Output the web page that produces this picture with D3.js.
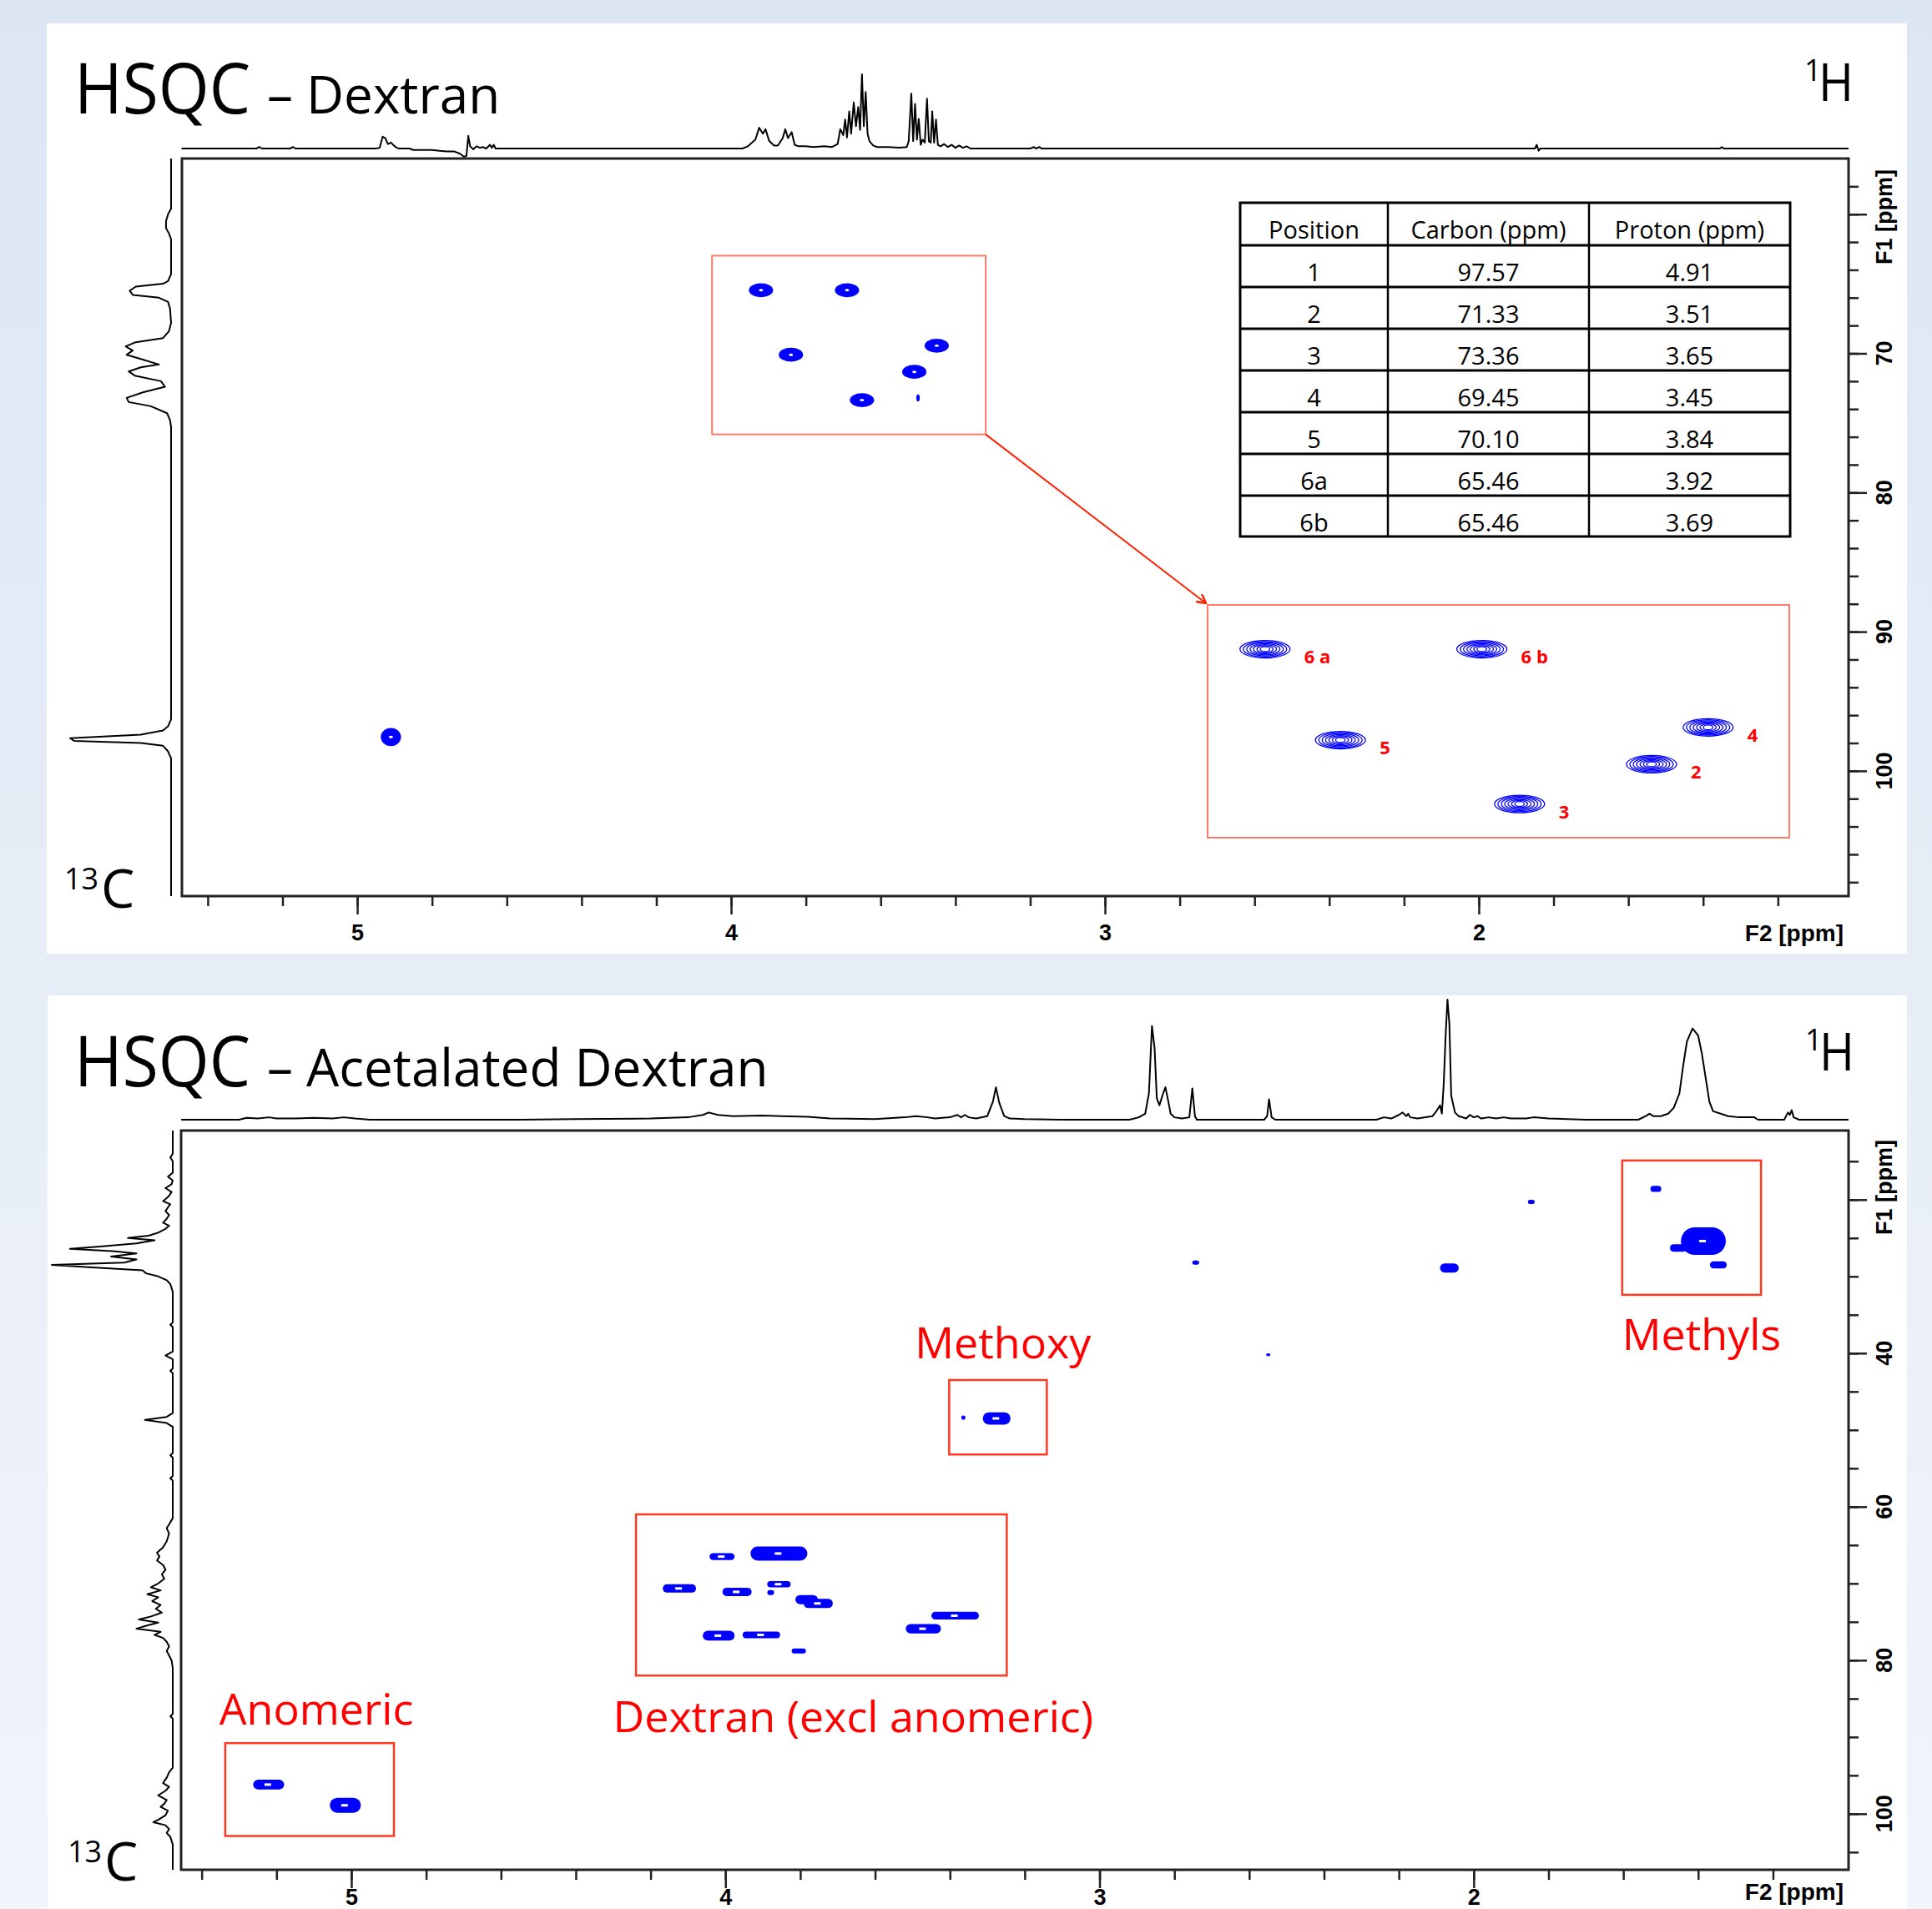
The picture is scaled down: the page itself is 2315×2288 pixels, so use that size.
<!DOCTYPE html>
<html><head><meta charset="utf-8">
<script src="https://cdn.jsdelivr.net/npm/d3@7"></script>
<style>html,body{margin:0;padding:0;background:#e9eef8;} svg{display:block}</style>
</head><body>
<script>
// ---------------- DATA ----------------
const tableHeaders = ["Position", "Carbon (ppm)", "Proton (ppm)"];
const positions = ["1", "2", "3", "4", "5", "6a", "6b"];
const carbonPpm = [97.57, 71.33, 73.36, 69.45, 70.10, 65.46, 65.46];
const protonPpm = [4.91, 3.51, 3.65, 3.45, 3.84, 3.92, 3.69];
// cross-peak linewidths (ppm) for dextran spectrum
const dexWidthH = [0.054, 0.065, 0.065, 0.065, 0.065, 0.065, 0.065];
const dexWidthC = [1.3, 1.0, 1.0, 1.0, 1.0, 1.0, 1.0];
// small artefact peak in dextran spectrum [H, C, wH, wC]
const dexArtefact = [3.50, 73.2, 0.009, 0.5];

const xMajorTicks = [5, 4, 3, 2];
const xMinorTicks = [5.4, 5.2, 5.0, 4.8, 4.6, 4.4, 4.2, 4.0, 3.8, 3.6, 3.4, 3.2, 3.0, 2.8, 2.6, 2.4, 2.2, 2.0, 1.8, 1.6, 1.4, 1.2];
const y1MajorTicks = [60, 70, 80, 90, 100];
const y1Labels = [70, 80, 90, 100];
const y1MinorTicks = [58, 60, 62, 64, 66, 68, 70, 72, 74, 76, 78, 80, 82, 84, 86, 88, 90, 92, 94, 96, 98, 100, 102, 104, 106, 108];
const y2MajorTicks = [20, 40, 60, 80, 100];
const y2Labels = [40, 60, 80, 100];
const y2MinorTicks = [15, 20, 25, 30, 35, 40, 45, 50, 55, 60, 65, 70, 75, 80, 85, 90, 95, 100, 105];

// 1H projection of dextran [ppm, intensity]
const h1Dextran = [
[5.47,0],[5.27,0],[5.262,2],[5.255,0],[5.18,0],[5.172,2],[5.165,0],
[4.95,0],[4.94,1],[4.932,16],[4.925,14],[4.918,6],[4.91,8],[4.90,3],[4.89,0],
[4.86,0],[4.85,-2],[4.80,-2],[4.78,-3],[4.76,-4],[4.74,-4],[4.725,-7],[4.715,-11],[4.708,-10],[4.703,17],[4.698,3],[4.69,-1],[4.68,3],[4.672,1],[4.665,2],[4.655,0],[4.645,5],[4.64,1],[4.635,5],[4.63,0],
[3.97,0],[3.955,3],[3.935,12],[3.925,28],[3.915,20],[3.908,26],[3.898,10],[3.885,4],[3.875,4],[3.862,14],[3.855,26],[3.848,14],[3.838,22],[3.83,5],[3.82,3],[3.80,3],[3.78,2],[3.75,3],[3.73,2],[3.715,6],[3.708,26],[3.70,18],[3.695,39],[3.69,15],[3.684,50],[3.679,20],[3.672,62],[3.666,30],[3.66,56],[3.655,25],[3.65,100],[3.645,30],[3.64,76],[3.635,20],[3.63,10],[3.62,4],[3.61,2],[3.58,2],[3.55,1],[3.53,2],[3.525,10],[3.518,74],[3.513,10],[3.508,60],[3.503,12],[3.498,40],[3.493,5],[3.488,12],[3.482,8],[3.476,67],[3.471,10],[3.466,8],[3.462,50],[3.457,8],[3.452,39],[3.447,5],[3.44,3],[3.43,6],[3.42,2],[3.41,5],[3.40,1],[3.39,4],[3.38,1],[3.37,3],[3.36,0],
[3.20,0],[3.19,2],[3.185,0],[3.175,2],[3.17,0],
[1.85,0],[1.845,5],[1.84,-3],[1.835,0],
[1.355,0],[1.35,2],[1.345,0],[1.011,0]
];
// 13C projection of dextran [ppm, intensity]
const c13Dextran = [
[56,0],[59.6,0],[60.0,3],[60.5,5],[61.0,5],[61.4,2],[61.8,0],
[64.3,0],[64.8,3],[65.0,8],[65.2,35],[65.5,41],[65.8,38],[66.0,12],[66.3,3],[66.8,1],[67.8,0],
[68.4,2],[68.9,8],[69.2,35],[69.5,45],[69.8,38],[70.1,44],[70.4,30],[70.8,12],[71.0,30],[71.3,42],[71.6,36],[72.0,10],[72.4,6],[72.8,28],[73.2,44],[73.5,42],[73.8,20],[74.3,4],[74.8,1],[75.3,0],
[96.3,0],[96.8,3],[97.1,8],[97.4,30],[97.65,100],[97.85,96],[98.0,30],[98.2,8],[98.6,3],[99.1,0],[109,0]
];
// 1H projection of acetalated dextran
const h1Acetal = [
[5.455,0],[5.30,0],[5.28,1.5],[5.25,1],[5.22,2],[5.20,1],[5.15,1],[5.10,1.5],[5.05,1],[5.02,2],[4.99,1],[4.95,0],
[4.55,0],[4.40,0.5],[4.20,1],[4.10,2],[4.06,4],[4.045,6],[4.02,4],[3.98,3],[3.90,3.5],[3.85,3],[3.78,2.5],[3.72,1],[3.60,0.5],
[3.52,2],[3.49,3],[3.46,2],[3.44,1],
[3.40,2],[3.38,4],[3.37,2],[3.36,4],[3.35,2],[3.33,1],[3.30,3],[3.285,15],[3.277,27],[3.268,14],[3.255,3],[3.24,1],[3.20,0.5],[3.10,0],
[2.92,0],[2.895,2],[2.878,5],[2.868,22],[2.86,78],[2.853,60],[2.847,18],[2.84,12],[2.83,22],[2.824,27],[2.818,18],[2.81,5],[2.80,2],[2.78,1],[2.76,2],[2.752,26],[2.745,3],[2.74,0],
[2.56,0],[2.552,3],[2.547,17],[2.54,2],[2.53,0],
[2.26,0],[2.24,2],[2.22,1],[2.20,4],[2.19,6],[2.18,3],[2.175,5],[2.17,2],[2.15,1],[2.11,3],[2.10,7],[2.09,12],[2.085,5],[2.08,30],[2.075,70],[2.07,100],[2.065,80],[2.06,20],[2.05,6],[2.04,3],[2.02,1],[2.01,4],[2.00,2],[1.99,3],[1.98,1],[1.96,2],[1.94,1],[1.92,2],[1.90,1],[1.86,1],[1.84,2],[1.80,1],[1.70,0],
[1.56,0],[1.54,3],[1.53,5],[1.52,3],[1.50,3],[1.48,5],[1.465,10],[1.45,22],[1.44,45],[1.43,65],[1.415,76],[1.40,70],[1.39,55],[1.38,35],[1.37,15],[1.36,7],[1.34,5],[1.32,3],[1.29,2],[1.25,2],[1.24,0],[1.17,0],[1.16,6],[1.155,4],[1.15,8],[1.145,2],[1.13,0],[0.998,0]
];
// 13C projection of acetalated dextran
const c13Acetal = [
[11,0],[14,0],[14.5,2],[15,0],[16.5,0],[17,4],[17.5,0],[18,1],[18.5,6],[19,1],[19.5,3],[20.2,8],[20.6,2],[21,4],[21.5,6],[22,3],[22.5,5],[23,8],[23.4,3],[23.8,6],[24.3,12],[24.7,20],[25.0,37],[25.3,15],[25.7,30],[26.1,60],[26.4,85],[26.7,50],[27.0,30],[27.4,51],[27.8,30],[28.2,40],[28.5,100],[28.8,70],[29.2,25],[29.6,22],[30.0,12],[30.5,5],[31,2],[32,0],
[36,0],[36.3,2],[36.6,0],[39.8,0],[40.3,6],[40.8,0],[42,0],[42.3,2],[42.6,0],
[47.8,0],[48.3,5],[48.7,23],[49.1,5],[49.6,0],
[53,0],[53.3,2],[53.6,0],[56,0],[56.3,2],[56.6,0],
[61.5,0],[62.3,3],[62.8,5],[63.5,3],[64.5,5],[65.3,8],[66.0,13],[66.5,11],[67.0,13],[67.6,8],[68.2,6],[68.8,9],[69.4,7],[70.0,12],[70.5,18],[70.9,10],[71.4,21],[71.8,12],[72.3,17],[72.8,10],[73.3,14],[73.8,9],[74.3,18],[74.7,28],[75.1,12],[75.5,22],[75.9,30],[76.3,10],[76.7,15],[77.1,8],[77.6,5],[78.2,3],[78.8,5],[79.4,3],[80,1],[81,0],
[87,0],[87.3,2],[87.6,0],
[94,0],[94.6,3],[95.3,5],[96,8],[96.5,3],[97,6],[97.6,12],[98.2,5],[98.7,7],[99.1,10],[99.6,4],[100.2,6],[100.8,12],[101.1,16],[101.5,6],[102,3],[102.5,5],[103,2],[104,0],[107.3,0]
];
// acetalated dextran cross peaks
const acetalH  = [1.513, 1.386, 1.453, 1.346, 2.743, 2.065, 1.846, 2.549, 3.275, 3.364, 4.009, 3.857, 4.123, 3.969, 3.857, 3.879, 3.783, 3.752, 3.386, 3.471, 4.018, 3.904, 3.804, 5.221, 5.016];
const acetalC  = [18.6, 25.4, 26.3, 28.5, 28.2, 28.9, 20.3, 40.2, 48.5, 48.4, 66.5, 66.1, 70.65, 71.1, 70.1, 71.2, 72.1, 72.6, 74.2, 75.9, 76.8, 76.7, 78.8, 96.2, 98.9];
const acetalWH = [0.029, 0.12, 0.045, 0.045, 0.018, 0.05, 0.018, 0.011, 0.074, 0.011, 0.067, 0.152, 0.089, 0.078, 0.0625, 0.018, 0.06, 0.078, 0.127, 0.094, 0.085, 0.1, 0.038, 0.083, 0.083];
const acetalWC = [0.8, 3.6, 1.0, 0.9, 0.55, 1.2, 0.55, 0.35, 1.6, 0.55, 0.9, 1.85, 1.1, 1.1, 0.8, 0.65, 1.2, 1.2, 1.0, 1.2, 1.3, 0.87, 0.65, 1.3, 1.96];
// highlighted regions [H from, H to, C from, C to]
const regionNames = ["Anomeric", "Dextran (excl anomeric)", "Methoxy", "Methyls"];
const regionH = [[5.337, 4.886], [4.239, 3.248], [3.402, 3.141], [1.603, 1.232]];
const regionC = [[90.8, 102.9], [61.0, 82.0], [43.5, 53.2], [14.9, 32.4]];
// dextran expansion region
const expandH = [4.051, 3.319];
const expandC = [62.98, 75.82];

// ---------------- LAYOUT / STYLE ----------------
const W = 2315, H = 2288;
const BLUE = "#0000ff", RED = "#ff0000";
const FONT = "'Open Sans', sans-serif";
const AXFONT = "'Liberation Sans', Arial, sans-serif";

const svg = d3.select("body").append("svg").attr("width", W).attr("height", H);
const defs = svg.append("defs");
const grad = defs.append("linearGradient").attr("id", "bg").attr("x1", 0).attr("y1", 0).attr("x2", 0).attr("y2", 1);
grad.append("stop").attr("offset", "0%").attr("stop-color", "#dce6f3");
grad.append("stop").attr("offset", "100%").attr("stop-color", "#f1f4fb");
defs.append("marker").attr("id", "arrow").attr("viewBox", "0 0 12 12").attr("refX", 11).attr("refY", 6)
  .attr("markerWidth", 12).attr("markerHeight", 12).attr("markerUnits", "userSpaceOnUse").attr("orient", "auto")
  .append("path").attr("d", "M0,0 L11,6 L0,12").attr("fill", "none").attr("stroke", "#ff2200").attr("stroke-width", 2.5);

svg.append("rect").attr("width", W).attr("height", H).attr("fill", "url(#bg)");
svg.append("rect").attr("x", 56).attr("y", 28).attr("width", 2229).attr("height", 1115).attr("fill", "#fff");
svg.append("rect").attr("x", 57).attr("y", 1193).attr("width", 2228).attr("height", 1100).attr("fill", "#fff");

function drawPanel(cfg) {
  const g = svg.append("g");
  const x = cfg.x, y = cfg.y;
  const [x0, x1] = x.range(), [y0, y1] = y.range();
  // 1H projection
  const pt = d3.scaleLinear().domain([0, 100]).range([cfg.topBase, cfg.topPeak]);
  g.append("path").datum(cfg.hProj)
    .attr("d", d3.line().x(d => x(d[0])).y(d => pt(d[1])))
    .attr("fill", "none").attr("stroke", "#000").attr("stroke-width", 2).attr("stroke-linejoin", "round");
  // 13C projection
  const pl = d3.scaleLinear().domain([0, 100]).range([cfg.leftBase, cfg.leftPeak]);
  g.append("path").datum(cfg.cProj)
    .attr("d", d3.line().x(d => pl(d[1])).y(d => y(d[0])))
    .attr("fill", "none").attr("stroke", "#000").attr("stroke-width", 2).attr("stroke-linejoin", "round");
  // frame
  g.append("rect").attr("x", x0).attr("y", y0).attr("width", x1 - x0).attr("height", y1 - y0)
    .attr("fill", "none").attr("stroke", "#222").attr("stroke-width", 3);
  // bottom axis
  const bMin = g.append("g").attr("transform", `translate(0,${y1})`)
    .call(d3.axisBottom(x).tickValues(xMinorTicks).tickSize(12).tickFormat(""));
  const bMaj = g.append("g").attr("transform", `translate(0,${y1})`)
    .call(d3.axisBottom(x).tickValues(xMajorTicks).tickSize(22).tickPadding(cfg.labelPad).tickFormat(d3.format("d")));
  // right axis
  const rMin = g.append("g").attr("transform", `translate(${x1},0)`)
    .call(d3.axisRight(y).tickValues(cfg.yMinor).tickSize(12).tickFormat(""));
  const rMaj = g.append("g").attr("transform", `translate(${x1},0)`)
    .call(d3.axisRight(y).tickValues(cfg.yMajor).tickSize(22).tickFormat(""));
  [bMin, bMaj, rMin, rMaj].forEach(a => {
    a.select(".domain").remove();
    a.selectAll(".tick line").attr("stroke", "#222").attr("stroke-width", 2.5);
  });
  bMaj.selectAll("text").attr("font-family", AXFONT).attr("font-weight", "bold").attr("font-size", 27).attr("fill", "#000");
  g.selectAll(".ylab").data(cfg.yLabels).join("text")
    .attr("transform", d => `translate(${x1 + 43},${y(d)}) rotate(-90)`)
    .attr("text-anchor", "middle").attr("dy", "0.35em")
    .attr("font-family", AXFONT).attr("font-weight", "bold").attr("font-size", 27).text(d => d);
  g.append("text").attr("x", x1 - 6).attr("y", y1 + cfg.f2dy).attr("text-anchor", "end")
    .attr("font-family", AXFONT).attr("font-weight", "bold").attr("font-size", 28).text("F2 [ppm]");
  g.append("text").attr("transform", `translate(${x1 + 43},${cfg.f1y}) rotate(-90)`)
    .attr("text-anchor", "middle").attr("dy", "0.35em")
    .attr("font-family", AXFONT).attr("font-weight", "bold").attr("font-size", 27).text("F1 [ppm]");
  // titles
  g.append("text").attr("x", 89).attr("y", cfg.titleY).attr("font-family", FONT).attr("font-size", 84)
    .attr("textLength", 211).attr("lengthAdjust", "spacingAndGlyphs").text("HSQC");
  g.append("text").attr("x", 320).attr("y", cfg.titleY).attr("font-family", FONT).attr("font-size", 62).text(cfg.subtitle);
  // 1H / 13C nucleus labels
  g.append("text").attr("x", cfg.hX).attr("y", cfg.hY - 24).attr("font-family", FONT).attr("font-size", 36).text("1");
  g.append("text").attr("x", cfg.hX + 17).attr("y", cfg.hY).attr("font-family", FONT).attr("font-size", 62)
    .attr("textLength", 42).attr("lengthAdjust", "spacingAndGlyphs").text("H");
  g.append("text").attr("x", cfg.cX).attr("y", cfg.cY - 22).attr("font-family", FONT).attr("font-size", 36).text("13");
  g.append("text").attr("x", cfg.cX + 44).attr("y", cfg.cY).attr("font-family", FONT).attr("font-size", 64).text("C");
  return g;
}

// ---------------- PANEL 1: DEXTRAN ----------------
const xA = d3.scaleLinear().domain([5.469, 1.011]).range([218, 2215]);
const yA = d3.scaleLinear().domain([56, 109]).range([190, 1074]);
const gA = drawPanel({
  x: xA, y: yA, hProj: h1Dextran, cProj: c13Dextran,
  topBase: 178, topPeak: 89, leftBase: 205, leftPeak: 84,
  yMinor: y1MinorTicks, yMajor: y1MajorTicks, yLabels: y1Labels, f1y: 260,
  titleY: 136, subtitle: "– Dextran", hX: 2162, hY: 121, cX: 77, cY: 1088, labelPad: 12, f2dy: 54
});

const dexPeaks = positions.map((p, i) => ({ p, h: protonPpm[i], c: carbonPpm[i], wh: dexWidthH[i], wc: dexWidthC[i] }));
const blobA = gA.append("g");
blobA.selectAll("ellipse.o").data(dexPeaks).join("ellipse").attr("class", "o")
  .attr("cx", d => xA(d.h)).attr("cy", d => yA(d.c))
  .attr("rx", d => (xA(d.h - d.wh / 2) - xA(d.h + d.wh / 2)) / 2)
  .attr("ry", d => (yA(d.c + d.wc / 2) - yA(d.c - d.wc / 2)) / 2).attr("fill", BLUE);
blobA.selectAll("ellipse.i").data(dexPeaks).join("ellipse").attr("class", "i")
  .attr("cx", d => xA(d.h)).attr("cy", d => yA(d.c)).attr("rx", 2.5).attr("ry", 1.5).attr("fill", "#fff");
blobA.append("ellipse").attr("cx", xA(dexArtefact[0])).attr("cy", yA(dexArtefact[1]))
  .attr("rx", (xA(dexArtefact[0] - dexArtefact[2] / 2) - xA(dexArtefact[0] + dexArtefact[2] / 2)) / 2)
  .attr("ry", (yA(dexArtefact[1] + dexArtefact[3] / 2) - yA(dexArtefact[1] - dexArtefact[3] / 2)) / 2).attr("fill", BLUE);

// expansion box
const ex0 = xA(expandH[0]), ex1 = xA(expandH[1]), ey0 = yA(expandC[0]), ey1 = yA(expandC[1]);
gA.append("rect").attr("x", ex0).attr("y", ey0).attr("width", ex1 - ex0).attr("height", ey1 - ey0)
  .attr("fill", "none").attr("stroke", "#ff7a68").attr("stroke-width", 2);

// zoomed view of the expansion
const zX = [1447, 2144], zY = [725, 1004];
const xZ = d3.scaleLinear().domain([3.98, 3.363]).range(zX);
const yZ = d3.scaleLinear().domain([63.2, 75.08]).range(zY);
gA.append("line").attr("x1", ex1).attr("y1", ey1).attr("x2", zX[0] - 2).attr("y2", zY[0] - 2)
  .attr("stroke", "#ff2200").attr("stroke-width", 2).attr("marker-end", "url(#arrow)");
gA.append("rect").attr("x", zX[0]).attr("y", zY[0]).attr("width", zX[1] - zX[0]).attr("height", zY[1] - zY[0])
  .attr("fill", "#fff").attr("stroke", "#ff7a68").attr("stroke-width", 2);
const zoomPeaks = dexPeaks.filter(d => xZ(d.h) > zX[0] && xZ(d.h) < zX[1]);
const levels = d3.range(7);
zoomPeaks.forEach(d => {
  gA.append("g").selectAll("ellipse").data(levels).join("ellipse")
    .attr("cx", xZ(d.h) + 1).attr("cy", yZ(d.c))
    .attr("rx", k => 30 * (1 - k * 0.135)).attr("ry", k => 10.5 * (1 - k * 0.12))
    .attr("fill", "none").attr("stroke", BLUE).attr("stroke-width", 1.3);
});
gA.selectAll(".zlab").data(zoomPeaks).join("text")
  .attr("x", d => xZ(d.h) + 48).attr("y", d => yZ(d.c) + 17)
  .attr("font-family", FONT).attr("font-weight", "bold").attr("font-size", 22).attr("fill", RED)
  .text(d => d.p.replace(/(\d)([a-z])/, "$1 $2"));

// table
const colX = [1486, 1663, 1904, 2145];
const rowY = [243, 294, 344, 394, 444, 494, 544, 594, 643];
const rows = [tableHeaders].concat(positions.map((p, i) => [p, carbonPpm[i].toFixed(2), protonPpm[i].toFixed(2)]));
const tg = gA.append("g");
tg.append("rect").attr("x", colX[0]).attr("y", rowY[0]).attr("width", colX[3] - colX[0]).attr("height", rowY[8] - rowY[0])
  .attr("fill", "#fff").attr("stroke", "#000").attr("stroke-width", 3);
tg.selectAll("line.h").data(rowY.slice(1, -1)).join("line").attr("class", "h")
  .attr("x1", colX[0]).attr("x2", colX[3]).attr("y1", d => d).attr("y2", d => d).attr("stroke", "#000").attr("stroke-width", 3);
tg.selectAll("line.v").data(colX.slice(1, -1)).join("line").attr("class", "v")
  .attr("y1", rowY[0]).attr("y2", rowY[8]).attr("x1", d => d).attr("x2", d => d).attr("stroke", "#000").attr("stroke-width", 2.5);
rows.forEach((r, ri) => {
  tg.selectAll(null).data(r).join("text")
    .attr("x", (d, ci) => (colX[ci] + colX[ci + 1]) / 2).attr("y", rowY[ri] + 43)
    .attr("text-anchor", "middle").attr("font-family", FONT).attr("font-size", 29).text(d => d);
});

// ---------------- PANEL 2: ACETALATED DEXTRAN ----------------
const xB = d3.scaleLinear().domain([5.455, 0.998]).range([217, 2215]);
const yB = d3.scaleLinear().domain([11, 107.3]).range([1355, 2241]);
const gB = drawPanel({
  x: xB, y: yB, hProj: h1Acetal, cProj: c13Acetal,
  topBase: 1342, topPeak: 1198, leftBase: 207, leftPeak: 62,
  yMinor: y2MinorTicks, yMajor: y2MajorTicks, yLabels: y2Labels, f1y: 1423,
  titleY: 1302, subtitle: "– Acetalated Dextran", hX: 2163, hY: 1283, cX: 81, cY: 2254, labelPad: 1, f2dy: 36
});
const acPeaks = acetalH.map((h, i) => ({ h, c: acetalC[i], wh: acetalWH[i], wc: acetalWC[i] }));
gB.append("g").selectAll("rect").data(acPeaks).join("rect")
  .attr("x", d => xB(d.h + d.wh / 2)).attr("y", d => yB(d.c - d.wc / 2))
  .attr("width", d => xB(d.h - d.wh / 2) - xB(d.h + d.wh / 2))
  .attr("height", d => yB(d.c + d.wc / 2) - yB(d.c - d.wc / 2))
  .attr("rx", d => Math.min(xB(d.h - d.wh / 2) - xB(d.h + d.wh / 2), yB(d.c + d.wc / 2) - yB(d.c - d.wc / 2)) / 2)
  .attr("fill", BLUE);
gB.append("g").selectAll("rect").data(acPeaks.filter(d => d.wh > 0.06)).join("rect")
  .attr("x", d => xB(d.h) - 5).attr("y", d => yB(d.c) - 1.5).attr("width", 8).attr("height", 3).attr("fill", "#fff");

// region boxes and labels
const regions = regionNames.map((n, i) => ({ n, h: regionH[i], c: regionC[i] }));
const labelPos = [{ dx: 8, base: "top", off: -22 }, { dx: 38, base: "bottom", off: 68 }, { dx: 6, base: "top", off: -26 }, { dx: 12, base: "bottom", off: 66 }];
gB.selectAll("rect.reg").data(regions).join("rect").attr("class", "reg")
  .attr("x", d => xB(d.h[0])).attr("y", d => yB(d.c[0]))
  .attr("width", d => xB(d.h[1]) - xB(d.h[0])).attr("height", d => yB(d.c[1]) - yB(d.c[0]))
  .attr("fill", "none").attr("stroke", "#ff3a20").attr("stroke-width", 2.5);
gB.selectAll("text.reg").data(regions).join("text").attr("class", "reg")
  .attr("x", (d, i) => (xB(d.h[0]) + xB(d.h[1])) / 2 + labelPos[i].dx)
  .attr("y", (d, i) => (labelPos[i].base === "top" ? yB(d.c[0]) : yB(d.c[1])) + labelPos[i].off)
  .attr("text-anchor", "middle").attr("font-family", FONT).attr("font-size", 52).attr("fill", RED)
  .text(d => d.n);
</script>
</body></html>
